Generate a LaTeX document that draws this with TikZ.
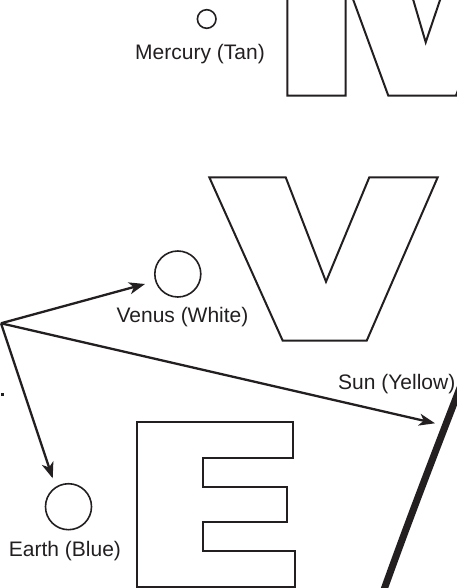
\documentclass[tikz,border=0pt]{standalone}
\usepackage{fontspec}
\setmainfont{Liberation Sans}
\usetikzlibrary{arrows.meta}
\definecolor{ink}{HTML}{231F20}
\begin{document}
\begin{tikzpicture}[x=1pt,y=-1pt,
  letter/.style={draw=ink, line width=2pt, line join=miter},
  planet/.style={circle, draw=ink, line width=1.6pt, inner sep=0pt, minimum size=#1},
  lbl/.style={font=\fontsize{21}{25}\selectfont, text=ink, anchor=base, inner sep=0pt},
  ptr/.style={draw=ink, line width=2.3pt, -{Stealth[length=16pt,width=12pt,inset=4.5pt]}},
  sunedge/.style={draw=ink, line width=7pt}]
\useasboundingbox (0,0) rectangle (457,588);
\clip (0,0) rectangle (457,588);
% letter M (cropped)
\draw[letter] (287.3,-40) -- (287.3,95.7) -- (345.7,95.7) -- (345.7,-20.8) -- (388.3,95.7) -- (456,95.7) -- (491,0) -- (500,-25);
\draw[letter] (407.4,-20) -- (425.7,42.3) -- (446.8,-20);
% letter V
\draw[letter] (209.3,177.3) -- (285.7,177.3) -- (326,281.7) -- (369.3,177.3) -- (437.7,177.3) -- (366.7,340.7) -- (282.7,340.7) -- cycle;
% letter E
\draw[letter] (136.7,422.3) -- (293.3,422.3) -- (293.3,458.3) -- (203.3,458.3) -- (203.3,487.3) -- (287.3,487.3) -- (287.3,522.3) -- (203.3,522.3) -- (203.3,551) -- (295,551) -- (295,586.7) -- (136.7,586.7) -- cycle;
% sun edge
\draw[sunedge] (463,380) .. controls (436,450) and (408,522) .. (381,598);
% planets and labels
\node[planet=18.6pt] (mercury) at (206.7,19) {};
\node[lbl] (mercuryLbl) at (200,59.3) {Mercury (Tan)};
\node[planet=46pt] (venus) at (177.8,274) {};
\node[lbl] (venusLbl) at (182.5,322.7) {Venus (White)};
\node[planet=46pt] (earth) at (68.5,506.7) {};
\node[lbl] (earthLbl) at (65,556.7) {Earth (Blue)};
\node[lbl] (sunLbl) at (396.7,389) {Sun (Yellow)};
% arrows
\coordinate (hub) at (1,323.3);
\coordinate (venusTip) at (145,284);
\coordinate (earthTip) at (52.7,478.3);
\coordinate (sunTip) at (435,423.3);
\draw[ptr] (hub) -- (venusTip);
\draw[ptr] (hub) -- (sunTip);
\draw[ptr] (hub) -- (earthTip);
% cropped dot
\fill[ink] (1,392.5) rectangle (4,395.5);
\end{tikzpicture}
\end{document}
